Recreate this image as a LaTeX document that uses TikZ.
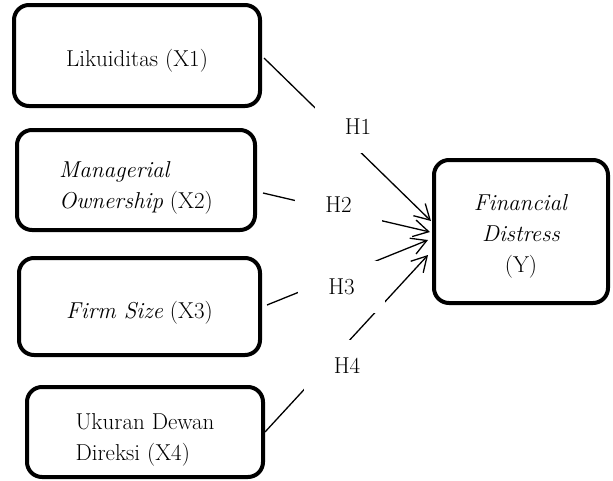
\documentclass[tikz,border=0pt]{standalone}
\usetikzlibrary{positioning}
\usetikzlibrary{arrows.meta}
\usetikzlibrary{calc}

\begin{document}
\begin{tikzpicture}[x=1pt,y=-1pt,
  varbox/.style={draw=black,line width=4pt,rounded corners=15pt,fill=white,inner sep=0pt,font=\fontsize{23}{31}\selectfont},
  hbox/.style={fill=white,minimum width=87pt,minimum height=52pt,inner sep=0pt,font=\fontsize{23}{25}\selectfont},
  link/.style={black,line width=1.3pt,-{Straight Barb[length=15pt,width=17pt]}}]
\useasboundingbox (0,0) rectangle (613,480);

%variabel bebas
\node[varbox,minimum width=246pt,minimum height=101pt,text height=27pt] (x1) at (137,55.5) {Likuiditas (X1)};
\node[varbox,minimum width=238pt,minimum height=100pt,align=left] (x2) at (136,180) {\rule{0pt}{32pt}\textit{Managerial}\\\textit{Ownership} (X2)};
\node[varbox,minimum width=241pt,minimum height=97pt,text height=29pt] (x3) at (139.5,306.5) {\textit{Firm Size} (X3)};
\node[varbox,minimum width=236pt,minimum height=90pt,align=left] (x4) at (145,432) {\rule{0pt}{32pt}Ukuran Dewan\\Direksi (X4)};

%variabel terikat
\node[varbox,minimum width=174pt,minimum height=143pt,align=center] (y) at (521,231.5) {\rule{0pt}{26pt}\textit{Financial}\\\textit{Distress}\\(Y)};

%hipotesis
\draw[link] ($(x1.east)+(2,2.5)$) -- ($(y.west)+(-1,-10.5)$);
\draw[link] ($(x2.east)+(6,13)$) -- ($(y.west)+(-2,0.5)$);
\draw[link] ($(x3.east)+(5,-1.5)$) -- ($(y.west)+(-4,8.5)$);
\draw[link] (x4.east) -- ($(y.west)+(-4,23.5)$);

\node[hbox] (h1) at (358,127) {H1};
\node[hbox] (h2) at (338.5,205) {H2};
\node[hbox] (h3) at (341.5,287) {H3};
\node[hbox] (h4) at (347,366) {H4};

\end{tikzpicture}
\end{document}
